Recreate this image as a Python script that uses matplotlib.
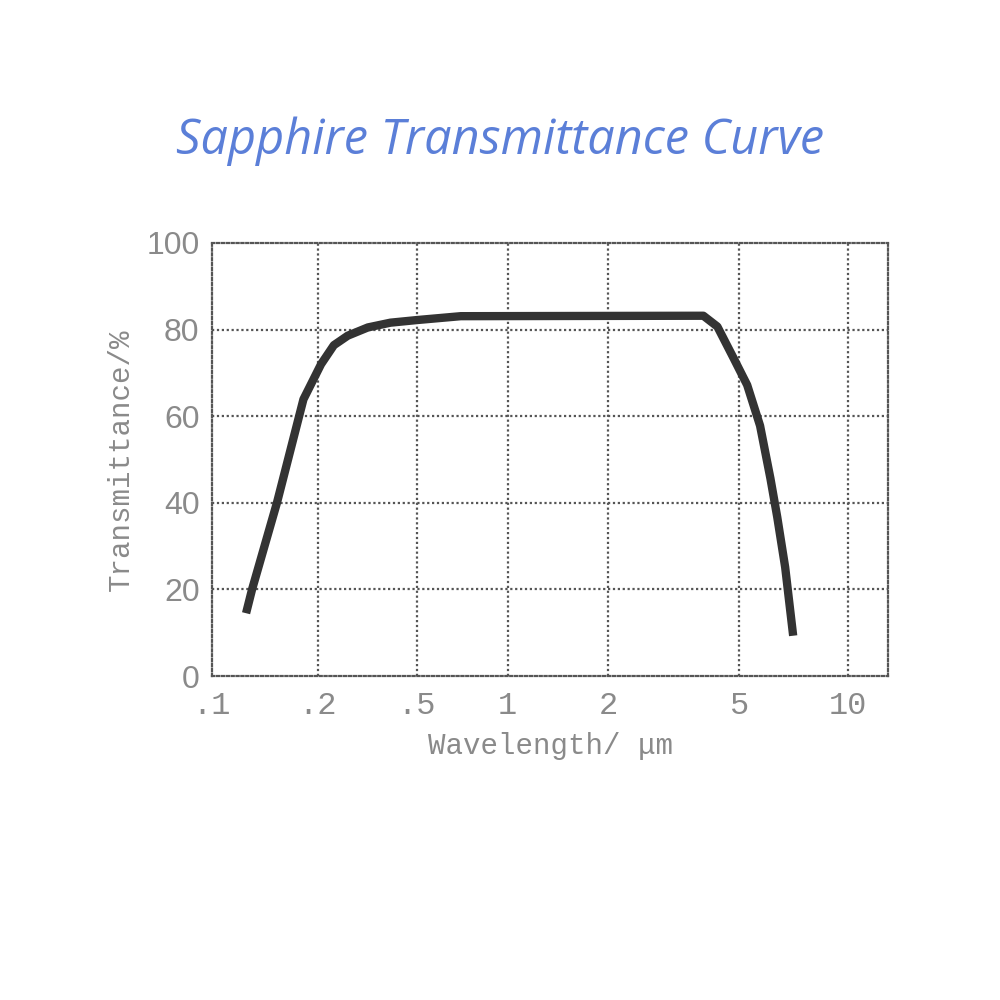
import numpy as np
import matplotlib
matplotlib.use("Agg")
import matplotlib.pyplot as plt

# transmittance curve
wavelength = [0.125, 0.130, 0.153, 0.182, 0.206, 0.232, 0.264, 0.318, 0.392, 0.5, 0.70,
              3.89, 4.29, 4.80, 5.26, 5.71, 6.10, 6.37, 6.70, 7.05]
transmittance = [14.5, 20, 40, 63.9, 72, 76.4, 78.6, 80.5, 81.6, 82.2, 83.1,
                 83.2, 80.7, 73.5, 67.2, 57.8, 45.6, 36.7, 25.1, 9.3]

x_ticks = [0.1, 0.2, 0.5, 1, 2, 5, 10]
x_tick_labels = ['.1', '.2', '.5', '1', '2', '5', '10']
y_ticks = [0, 20, 40, 60, 80, 100]

# the scanned axis is not a clean log scale: piecewise map log10(wl) -> position
scale_wl = np.array([0.001, 0.1, 0.2, 0.5, 1, 2, 5, 10, 12.9, 1000])
scale_pos = np.array([-495, 211, 317, 416, 507, 608, 739, 848, 888, 1935])
scale_log = np.log10(scale_wl)


def fwd(x):
    x = np.clip(np.asarray(x, dtype=float), 1e-3, 1e3)
    return np.interp(np.log10(x), scale_log, scale_pos)


def inv(p):
    return 10 ** np.interp(np.asarray(p, dtype=float), scale_pos, scale_log)


fig = plt.figure(figsize=(10, 10), dpi=100)
ax = fig.add_axes([0.212, 0.324, 0.676, 0.433])
ax.set_xscale('function', functions=(fwd, inv))

ax.plot(wavelength, transmittance, color='#333333', lw=6,
        solid_capstyle='butt', solid_joinstyle='round')

ax.set_xlim(0.1, 12.9)
ax.set_ylim(0, 100)
ax.set_xticks(x_ticks)
ax.set_xticklabels(x_tick_labels)
ax.xaxis.set_minor_locator(matplotlib.ticker.NullLocator())
ax.set_yticks(y_ticks)

grid_kw = dict(color='#555555', lw=1.6, ls=(0, (1, 1.2)), zorder=0)
for w in x_ticks[1:]:
    ax.axvline(w, **grid_kw)
for t in y_ticks[1:-1]:
    ax.axhline(t, **grid_kw)
for s in ax.spines.values():
    s.set_linestyle((0, (1, 1.2)))
    s.set_color('#555555')
    s.set_linewidth(1.6)

ax.tick_params(length=0, labelcolor='#8a8a8a')
ax.tick_params(axis='y', pad=9)
ax.tick_params(axis='x', pad=11)
for lab in ax.get_yticklabels():
    lab.set_fontfamily('Liberation Sans')
    lab.set_fontsize(23)
for lab in ax.get_xticklabels():
    lab.set_fontfamily('Liberation Mono')
    lab.set_fontsize(23)

ax.set_xlabel('Wavelength/\u00a0μm', fontsize=21, color='#8a8a8a',
              family='Liberation Mono', labelpad=8)
ax.set_ylabel('Transmittance/%', fontsize=21, color='#8a8a8a',
              family='Liberation Mono', labelpad=8)

fig.text(0.5, 0.859, 'Sapphire Transmittance Curve', ha='center', va='center',
         fontsize=35, style='italic', color='#5b7fd8', family='Open Sans')

fig.savefig('out.png', dpi=100)
